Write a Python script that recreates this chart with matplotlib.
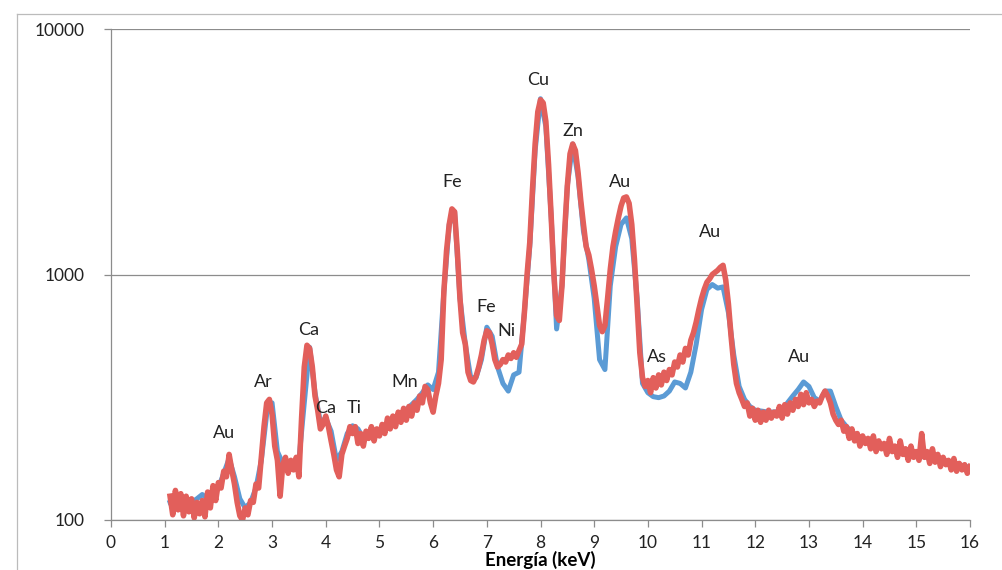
import numpy as np
import matplotlib
matplotlib.use("Agg")
import matplotlib.pyplot as plt
import matplotlib.ticker as mticker

# ── data ──────────────────────────────────────────────────────────────────────
# smooth (blue) spectrum, 1.1 .. 16.0 keV in 0.1 keV steps
blue_counts = [
    118, 120, 118, 117, 118, 122, 127, 122, 125, 135,      # 1.1 - 2.0
    155, 178, 150, 122, 112, 118, 135, 175, 270, 300,      # 2.1 - 3.0
    190, 170, 165, 168, 175, 300, 505, 330, 250, 260,      # 3.1 - 4.0
    230, 175, 190, 225, 242, 235, 215, 220, 225, 230,      # 4.1 - 5.0
    240, 250, 262, 270, 282, 295, 310, 330, 355, 340,      # 5.1 - 6.0
    400, 850, 1600, 1800, 800, 520, 380, 380, 450, 610,    # 6.1 - 7.0
    560, 420, 360, 335, 390, 400, 700, 1300, 3200, 5200,   # 7.1 - 8.0
    4000, 1700, 600, 900, 2300, 3400, 2500, 1500, 1150, 800,  # 8.1 - 9.0
    450, 410, 900, 1300, 1600, 1700, 1400, 800, 360, 330,  # 9.1 - 10.0
    318, 315, 320, 335, 365, 360, 345, 400, 520, 720,      # 10.1 - 11.0
    870, 910, 880, 890, 700, 470, 350, 310, 290, 280,      # 11.1 - 12.0
    278, 276, 275, 276, 278, 300, 320, 340, 365, 350,      # 12.1 - 13.0
    315, 305, 335, 335, 290, 255, 240, 228, 220, 212,      # 13.1 - 14.0
    208, 205, 200, 197, 194, 192, 190, 188, 186, 184,      # 14.1 - 15.0
    182, 180, 178, 176, 174, 172, 170, 168, 166, 164,      # 15.1 - 16.0
]

# noisy (red) spectrum, 1.10 .. 16.00 keV in 0.05 keV steps
red_counts = [
    125, 105, 132, 110, 128, 104, 125, 108, 122, 102,
    118, 106, 120, 103, 130, 112, 138, 120, 142,                  # 1.10 - 2.00
    135, 158, 150, 185, 160, 140, 118, 104, 100, 112,
    105, 120, 118, 140, 135, 180, 240, 300, 310, 270,             # 2.05 - 3.00
    200, 175, 125, 168, 180, 155, 175, 160, 180, 150,
    260, 420, 515, 500, 420, 320, 280, 235, 245, 265,             # 3.05 - 4.00
    240, 210, 185, 160, 150, 185, 200, 215, 240, 225,
    240, 205, 225, 200, 230, 215, 240, 210, 235, 220,             # 4.05 - 5.00
    245, 225, 260, 235, 265, 240, 275, 250, 285, 255,
    290, 265, 300, 280, 320, 300, 350, 340, 300, 275,             # 5.05 - 6.00
    320, 360, 450, 850, 1250, 1600, 1850, 1800, 1250, 800,
    580, 520, 400, 370, 365, 385, 420, 470, 540, 590,             # 6.05 - 7.00
    580, 520, 450, 420, 430, 450, 440, 470, 455, 480,
    460, 490, 520, 700, 1000, 1350, 2200, 3400, 4600, 5150,       # 7.05 - 8.00
    5000, 4200, 2800, 1700, 1000, 680, 650, 900, 1500, 2300,
    3100, 3400, 3200, 2600, 2000, 1600, 1300, 1200, 1050, 900,    # 8.05 - 9.00
    750, 620, 585, 620, 800, 1050, 1300, 1500, 1700, 1900,
    2050, 2070, 1950, 1600, 1150, 750, 480, 380, 350, 370,        # 9.05 - 10.00
    330, 380, 345, 390, 355, 400, 370, 410, 390, 440,
    420, 470, 440, 500, 470, 540, 580, 640, 720, 800,             # 10.05 - 11.00
    870, 930, 960, 1000, 1020, 1040, 1070, 1090, 950, 760,
    560, 430, 360, 330, 310, 290, 300, 265, 285, 255,             # 11.05 - 12.00
    280, 250, 275, 255, 280, 260, 275, 265, 290, 260,
    295, 270, 300, 280, 310, 290, 325, 295, 330, 300,             # 12.05 - 13.00
    310, 290, 305, 300, 320, 335, 320, 300, 270, 255,
    245, 255, 230, 240, 215, 235, 210, 225, 200, 220,             # 13.05 - 14.00
    205, 215, 195, 220, 190, 210, 195, 205, 185, 215,
    190, 200, 180, 210, 185, 195, 175, 200, 180, 190,             # 14.05 - 15.00
    175, 225, 180, 190, 170, 195, 172, 185, 165, 180,
    168, 175, 160, 178, 158, 170, 160, 168, 155, 165,             # 15.05 - 16.00
]

blue_energy = np.linspace(1.1, 16.0, len(blue_counts))
red_energy = np.linspace(1.1, 16.0, len(red_counts))

# peak labels: (text, energy keV, counts)
peak_labels = [
    ("Au", 2.10, 226), ("Ar", 2.83, 365), ("Ca", 3.69, 594),
    ("Ca", 4.00, 286), ("Ti", 4.53, 286), ("Mn", 5.47, 365),
    ("Fe", 6.35, 2381), ("Fe", 6.98, 738), ("Ni", 7.37, 589),
    ("Cu", 7.95, 6194), ("Zn", 8.60, 3837), ("Au", 9.48, 2381),
    ("As", 10.17, 461), ("Au", 11.15, 1490), ("Au", 12.81, 461),
]

BLUE = "#5B9BD5"
RED = "#E25F5B"
GRAY = "#8C8C8C"

# ── figure ────────────────────────────────────────────────────────────────────
plt.rcParams["font.family"] = ["Lato", "DejaVu Sans"]

fig = plt.figure(figsize=(10.02, 5.70), dpi=100)
ax = fig.add_axes([111 / 1002, 1 - 520 / 570, (970 - 111) / 1002, (520 - 29) / 570])

ax.plot(blue_energy, blue_counts, color=BLUE, lw=3.6, solid_joinstyle="round")
ax.plot(red_energy, red_counts, color=RED, lw=4.0, solid_joinstyle="round")

for txt, e, c in peak_labels:
    ax.text(e, c, txt, fontsize=13, ha="center", va="center", color="#222222")

ax.set_yscale("log")
ax.set_ylim(100, 10000)
ax.set_xlim(0, 16)
ax.xaxis.set_major_locator(mticker.MultipleLocator(1))
ax.yaxis.set_major_locator(mticker.FixedLocator([100, 1000, 10000]))
ax.yaxis.set_minor_locator(mticker.NullLocator())
ax.yaxis.set_major_formatter(mticker.FuncFormatter(lambda v, _: f"{v:.0f}"))

ax.grid(axis="y", color=GRAY, lw=0.9)
ax.set_axisbelow(True)
for s in ["top", "right"]:
    ax.spines[s].set_visible(False)
for s in ["left", "bottom"]:
    ax.spines[s].set_color(GRAY)
    ax.spines[s].set_linewidth(0.9)
ax.tick_params(axis="both", direction="out", length=5, color=GRAY,
               labelsize=12.5, labelcolor="#222222", width=0.9)
ax.tick_params(axis="x", pad=6)
ax.tick_params(axis="y", pad=14)

ax.set_xlabel("Energía (keV)", fontsize=13.5, fontweight="bold", labelpad=0)

# outer chart frame (left and top edges visible in the scan)
fig.add_artist(plt.Line2D([17 / 1002, 17 / 1002], [0, 1 - 14 / 570],
                          transform=fig.transFigure, color="#BBBBBB", lw=0.9))
fig.add_artist(plt.Line2D([17 / 1002, 1], [1 - 14 / 570, 1 - 14 / 570],
                          transform=fig.transFigure, color="#BBBBBB", lw=0.9))

fig.savefig("out.png", dpi=100)
